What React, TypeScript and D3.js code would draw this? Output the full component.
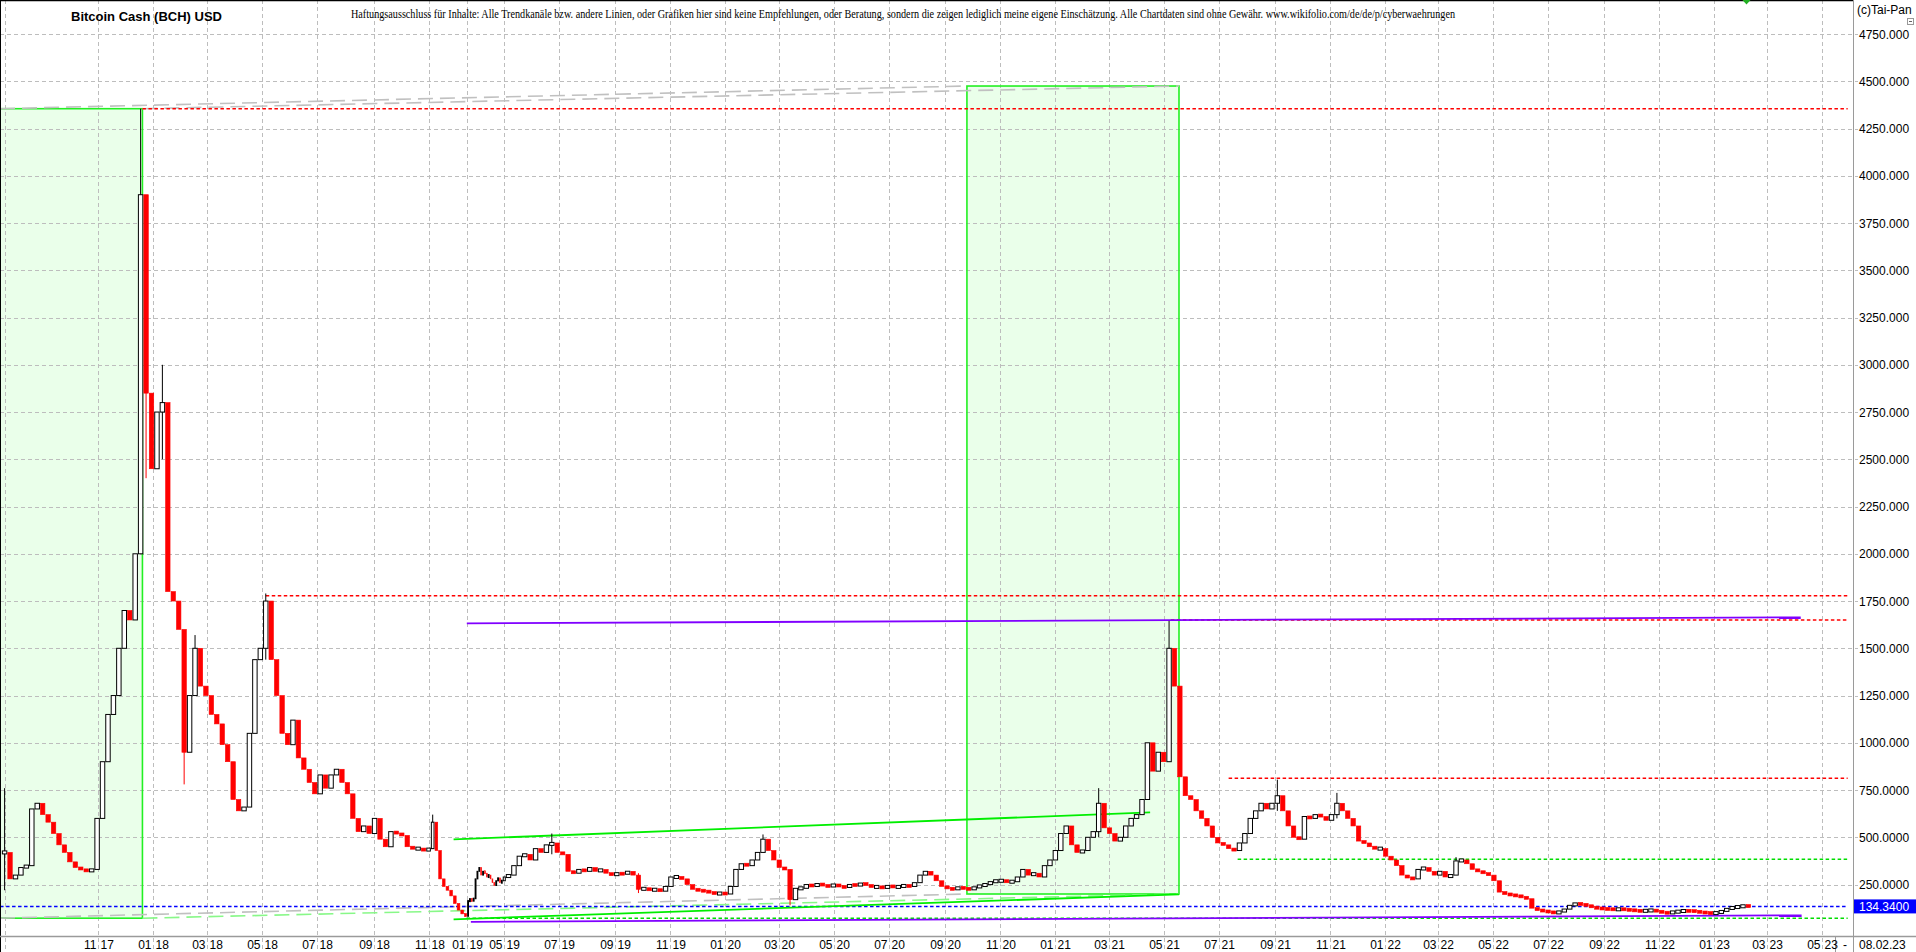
import React from "react";
import { format, scaleLinear, scaleUtc, utcDay } from "d3";

// weekly-ish closes (one every 6 days)
const startDate = "2017-07-21";
const stepDays = 6;
const closes = [
  420, 280, 300, 340, 350, 650, 680, 620, 580, 520,
  460, 420, 370, 340, 330, 320, 330, 600, 900, 1150,
  1250, 1500, 1700, 1650, 2000, 3900, 2850, 2450, 2750, 2800,
  1800, 1750, 1600, 950, 1250, 1500, 1300, 1250, 1150, 1100,
  990, 900, 700, 640, 660, 1050, 1440, 1500, 1750, 1440,
  1250, 1050, 990, 1120, 920, 860, 790, 730, 830, 760,
  830, 860, 790, 730, 600, 530, 560, 520, 600, 490,
  450, 530, 520, 510, 450, 440, 440, 430, 440, 580,
  430, 280, 240, 220, 190, 150, 115, 95, 82, 165,
  170, 165, 175, 280, 320, 340, 300, 320, 310, 290,
  300, 280, 260, 245, 270, 285, 260, 270, 290, 300,
  350, 400, 410, 380, 440, 420, 460, 470, 420, 410,
  320, 310, 330, 320, 340, 320, 330, 310, 300, 310,
  305, 320, 300, 225, 230, 220, 225, 215, 240, 290,
  290, 280, 250, 225, 220, 215, 210, 200, 205, 200,
  240, 330, 360, 350, 380, 420, 490, 430, 380, 340,
  330, 170, 230, 230, 250, 240, 255, 245, 240, 250,
  240, 235, 250, 245, 255, 250, 235, 240, 230, 245,
  235, 240, 245, 240, 260, 300, 320, 300, 270, 240,
  230, 225, 235, 230, 225, 235, 245, 250, 265, 270,
  270, 265, 265, 290, 330, 300, 310, 290, 350, 380,
  430, 520, 560, 460, 420, 430, 500, 530, 680, 550,
  520, 480, 500, 560, 600, 620, 700, 1000, 850, 950,
  900, 1500, 1300, 820, 720, 700, 640, 600, 560, 500,
  470, 460, 440, 430, 470, 520, 600, 640, 680, 650,
  680, 720, 640, 560, 500, 490, 610, 600, 620, 610,
  590, 620, 680, 640, 600, 560, 480, 470, 450, 440,
  440, 400, 380, 350, 300, 285, 280, 330, 340, 320,
  300, 320, 290, 300, 375, 380, 360, 330, 320, 310,
  300, 270, 210, 200, 195, 190, 185, 175, 125, 115,
  110, 105, 100, 105, 120, 140, 150, 145, 140, 130,
  125, 122, 120, 118, 120, 118, 115, 112, 110, 112,
  114, 110, 102, 100, 105, 108, 112, 110, 108, 104,
  100, 98, 100, 110, 122, 130, 132, 138, 134.34,
];

// long wicks that stand out in the reference
const wickDates = [
  "2017-07-21", "2017-12-18", "2017-12-24", "2018-01-11", "2018-02-04", "2018-02-16",
  "2018-05-05", "2018-11-07", "2019-06-23", "2019-09-27", "2020-02-12", "2020-03-13",
  "2021-02-18", "2021-05-07", "2021-09-04", "2021-11-09", "2022-03-21",
];
const wickHighs = [760, 4355, 3100, 3000, 1250, 1570, 1790, 620, 520, 310, 515, 330, 760, 1645, 805, 735, 395];
const wickLows = [220, 2000, 2400, 2500, 780, 1250, 1440, 440, 410, 205, 420, 140, 500, 900, 640, 600, 330];

const priceTicks = [250, 500, 750, 1000, 1250, 1500, 1750, 2000, 2250, 2500, 2750, 3000, 3250, 3500, 3750, 4000, 4250, 4500, 4750];
const tickMonths = [
  "2017-11", "2018-01", "2018-03", "2018-05", "2018-07", "2018-09", "2018-11",
  "2019-01", "2019-05", "2019-07", "2019-09", "2019-11",
  "2020-01", "2020-03", "2020-05", "2020-07", "2020-09", "2020-11",
  "2021-01", "2021-03", "2021-05", "2021-07", "2021-09", "2021-11",
  "2022-01", "2022-03", "2022-05", "2022-07", "2022-09", "2022-11",
  "2023-01", "2023-03", "2023-05",
];

const lastPrice = 134.34;
const lastDateLabel = "08.02.23";
const lineEnd = "2023-05-29";
const plotStart = "2017-07-16";

// horizontal levels
const levelValues = [4355, 1778, 1650, 812, 384, lastPrice, 72];
const levelStarts = ["2017-12-20", "2018-05-05", "2021-05-09", "2021-07-12", "2021-07-22", plotStart, "2019-01-01"];
const levelColors = ["#ff0000", "#ff0000", "#ff0000", "#ff0000", "#00dd00", "#0000ff", "#00dd00"];

// trend lines
const trendFrom = ["2018-12-11", "2018-12-11", "2019-01-15", "2019-01-02"];
const trendTo = ["2021-04-16", "2021-05-18", "2023-04-08", "2023-04-07"];
const trendFromValues = [489, 66, 53, 1632];
const trendToValues = [632, 198, 87, 1664];
const trendColors = ["#00ee00", "#00ee00", "#8000ff", "#8000ff"];

// boxes
const boxFrom = [plotStart, "2020-09-25"];
const boxTo = ["2017-12-20", "2021-05-18"];
const boxLow = [72, 200];
const boxHigh = [4355, 4475];

const title = "Bitcoin Cash (BCH) USD";
const disclaimer =
  "Haftungsausschluss für Inhalte: Alle Trendkanäle bzw. andere Linien, oder Grafiken hier sind keine Empfehlungen, oder Beratung, sondern die zeigen lediglich meine eigene Einschätzung. Alle Chartdaten sind ohne Gewähr.  www.wikifolio.com/de/de/p/cyberwaehrungen";

const parse = (s: string) => new Date(s + "T00:00:00Z");
const iso = (d: Date) => d.toISOString().slice(0, 10);

export default function App() {
  const width = 1916;
  const height = 952;
  const plotRight = 1853;
  const plotBottom = 936;
  const font = "'Liberation Sans', Arial, sans-serif";

  const x = scaleUtc()
    .domain([parse("2017-11-01"), parse("2018-11-01"), parse("2019-01-01"), parse("2019-05-01"), parse("2023-05-01")])
    .range([98, 429, 466.5, 504, 1822.4]);
  const y = scaleLinear().domain([0, 4750]).range([931.8, 34.05]);
  const fmt = format(".7r");

  const start = parse(startDate);
  const half = stepDays / 2;
  const candles = closes.map((close, i) => {
    const date = utcDay.offset(start, i * stepDays);
    const open = i === 0 ? close : closes[i - 1];
    const left = x(utcDay.offset(date, -half));
    const right = x(utcDay.offset(date, half));
    const w = Math.max(0.8, right - left - 1);
    const top = y(Math.max(open, close));
    const bottom = y(Math.min(open, close));
    const h = Math.max(3, bottom - top);
    const k = wickDates.indexOf(iso(date));
    return {
      key: i,
      down: close < open,
      x: left + 0.5,
      w,
      y: (top + bottom) / 2 - h / 2,
      h,
      cx: x(date),
      hi: k >= 0 ? y(wickHighs[k]) : null,
      lo: k >= 0 ? y(wickLows[k]) : null,
    };
  });

  const endX = x(parse(lineEnd));
  const boxes = boxFrom.map((f, i) => ({
    x0: x(parse(f)),
    x1: x(parse(boxTo[i])),
    y0: y(boxHigh[i]),
    y1: y(boxLow[i]),
  }));
  const [b1, b2] = boxes;
  const connectors = [
    { x1: b1.x0, y1: b1.y0, x2: b2.x0, y2: b2.y0, c: "#c0c0c0" },
    { x1: b1.x1, y1: b1.y0, x2: b2.x1, y2: b2.y0, c: "#c0c0c0" },
    { x1: b1.x0, y1: b1.y1, x2: b2.x0, y2: b2.y1, c: "#c0c0c0" },
    { x1: b1.x1, y1: b1.y1, x2: b2.x1, y2: b2.y1, c: "#88f888" },
  ];

  const gridX = [parse(startDate), ...tickMonths.map((m) => parse(`${m}-01`))].map((d) => x(d));

  return (
    <svg width={width} height={height} viewBox={`0 0 ${width} ${height}`} style={{ display: "block", background: "#fff" }}>
      <style>{"body{margin:0;overflow:hidden}"}</style>
      <defs>
        <clipPath id="plot">
          <rect x={0} y={0} width={plotRight} height={plotBottom} />
        </clipPath>
      </defs>
      <rect width={width} height={height} fill="#fff" />

      <g clipPath="url(#plot)">
        {boxes.map((b, i) => (
          <rect key={`bf-${i}`} x={b.x0} y={b.y0} width={b.x1 - b.x0} height={b.y1 - b.y0} fill="#eaffea" />
        ))}
      </g>

      {/* grid */}
      <g stroke="#bdbdbd" strokeWidth={1} strokeDasharray="4 3">
        {priceTicks.map((t) => (
          <line key={`gy-${t}`} x1={0} x2={1858} y1={Math.round(y(t)) + 0.5} y2={Math.round(y(t)) + 0.5} />
        ))}
        {gridX.map((gx, i) => (
          <line key={`gx-${i}`} x1={Math.round(gx) + 0.5} x2={Math.round(gx) + 0.5} y1={0} y2={height} />
        ))}
      </g>

      <g clipPath="url(#plot)">
        {boxes.map((b, i) => (
          <rect key={`bs-${i}`} x={b.x0} y={b.y0} width={b.x1 - b.x0} height={b.y1 - b.y0} fill="none" stroke="#22f022" strokeWidth={1.6} />
        ))}
        {connectors.map((c, i) => (
          <line key={`cn-${i}`} x1={c.x1} y1={c.y1} x2={c.x2} y2={c.y2} stroke={c.c} strokeWidth={1.6} strokeDasharray="15 7" />
        ))}
        {levelValues.map((v, i) => (
          <line
            key={`lv-${i}`}
            x1={x(parse(levelStarts[i]))}
            x2={endX}
            y1={y(v)}
            y2={y(v)}
            stroke={levelColors[i]}
            strokeWidth={1.5}
            strokeDasharray="3.5 2.5"
          />
        ))}
        {trendFrom.map((f, i) => (
          <line
            key={`tr-${i}`}
            x1={x(parse(f))}
            x2={x(parse(trendTo[i]))}
            y1={y(trendFromValues[i])}
            y2={y(trendToValues[i])}
            stroke={trendColors[i]}
            strokeWidth={1.8}
          />
        ))}

        {candles.map((c) => (
          <g key={`c-${c.key}`}>
            {c.hi !== null && (
              <line x1={c.cx} x2={c.cx} y1={c.hi} y2={c.lo ?? c.hi} stroke={c.down ? "#ff0000" : "#000"} strokeWidth={1} />
            )}
            <rect
              x={c.x}
              y={c.y}
              width={c.w}
              height={c.h}
              fill={c.down ? "#ff0000" : "#fff"}
              stroke={c.down ? "#ff0000" : "#000"}
              strokeWidth={c.down ? 0.6 : 1}
            />
          </g>
        ))}
      </g>

      {/* frame */}
      <line x1={0} x2={plotRight} y1={0.5} y2={0.5} stroke="#000" strokeWidth={1.5} />
      <line x1={0.5} x2={0.5} y1={0} y2={height} stroke="#000" strokeWidth={1} />
      <line x1={plotRight + 0.5} x2={plotRight + 0.5} y1={0} y2={height} stroke="#9a9a9a" strokeWidth={1} />
      <line x1={0} x2={width} y1={plotBottom + 0.5} y2={plotBottom + 0.5} stroke="#9a9a9a" strokeWidth={1.5} />
      <line x1={1835.5} x2={1835.5} y1={plotBottom} y2={height} stroke="#9a9a9a" strokeWidth={1} />

      {/* y labels */}
      <g fontFamily={font} fontSize={12} fill="#000">
        {priceTicks.map((t) => (
          <text key={`yl-${t}`} x={1859} y={y(t) + 4.5}>
            {fmt(t)}
          </text>
        ))}
      </g>
      <rect x={1854} y={y(lastPrice) - 7} width={62} height={14} fill="#0000ff" />
      <text x={1859} y={y(lastPrice) + 4.5} fontFamily={font} fontSize={12} fill="#fff">
        {fmt(lastPrice)}
      </text>

      {/* x labels */}
      <g fontFamily={font} fontSize={12} fill="#000">
        {tickMonths.map((m) => {
          const tx = Math.round(x(parse(`${m}-01`))) + 0.5;
          return (
            <g key={`xl-${m}`}>
              <text x={tx - 2} y={948.5} textAnchor="end">
                {m.slice(5, 7)}
              </text>
              <text x={tx + 2} y={948.5}>
                {m.slice(2, 4)}
              </text>
            </g>
          );
        })}
        <text x={1845} y={948.5} textAnchor="middle">
          -
        </text>
        <text x={1859} y={948.5}>
          {lastDateLabel}
        </text>
      </g>

      {/* header */}
      <text x={71} y={21} fontFamily={font} fontSize={13} fontWeight="bold" fill="#000">
        {title}
      </text>
      <text
        x={351}
        y={18}
        fontFamily="'Liberation Serif', 'Times New Roman', serif"
        fontSize={12}
        fill="#000"
        textLength={1104}
        lengthAdjust="spacingAndGlyphs"
      >
        {disclaimer}
      </text>
      <text x={1857} y={14} fontFamily={font} fontSize={12} fill="#000">
        (c)Tai-Pan
      </text>
      <rect x={1907.5} y={18.5} width={6} height={6} fill="#fff" stroke="#999" strokeWidth={1} />
      <line x1={1909} x2={1912} y1={21.5} y2={21.5} stroke="#666" strokeWidth={1} />
      <path d="M1742.5,0 L1750.5,0 L1746.5,4.5 Z" fill="#22b022" />
    </svg>
  );
}
